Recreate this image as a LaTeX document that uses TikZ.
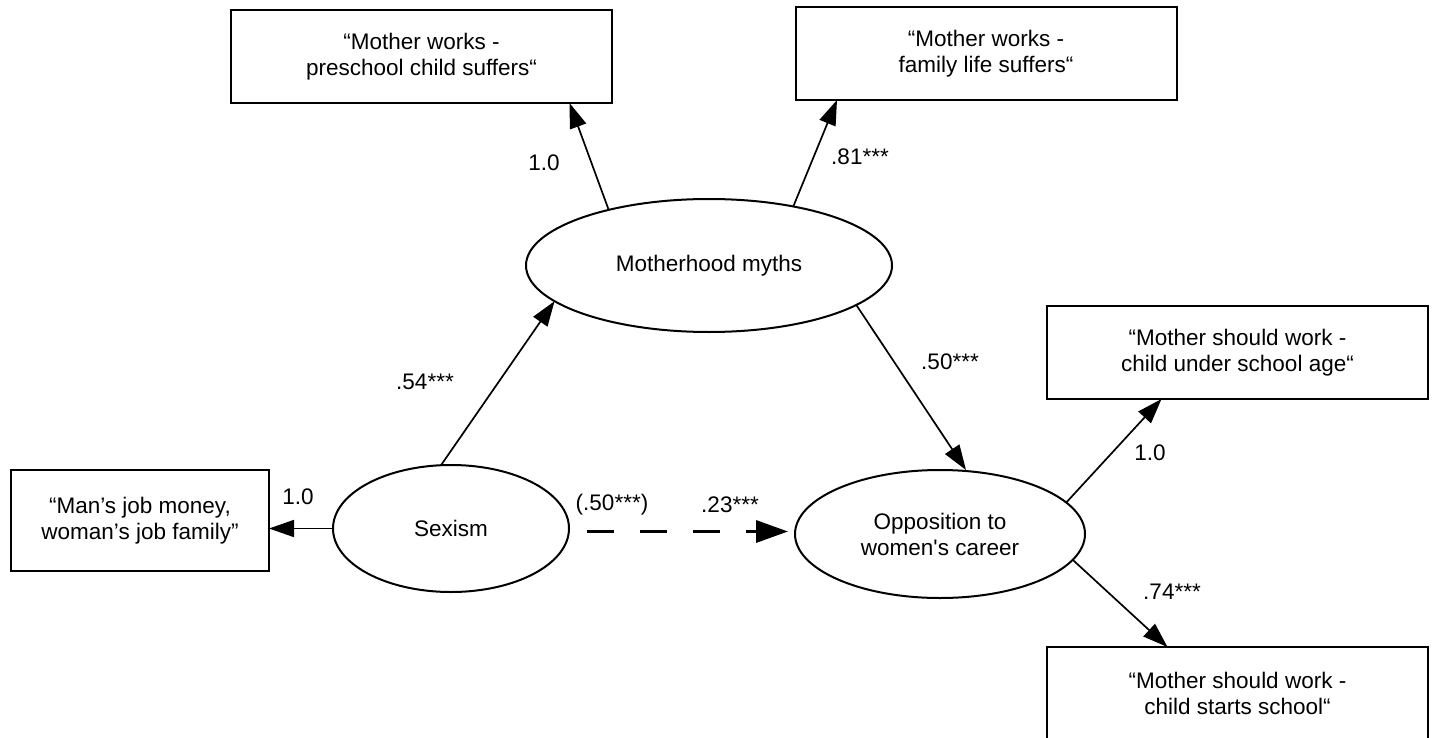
\documentclass[tikz,border=0pt]{standalone}
\usepackage{fontspec}
\setmainfont{Liberation Sans}[Ligatures=TeXOff]
\usetikzlibrary{shapes.geometric,arrows.meta,calc}
\begin{document}
\begin{tikzpicture}[x=0.5pt,y=-0.5pt,
  every node/.style={font=\fontsize{11.25}{13}\selectfont},
  obs/.style={draw,line width=1pt,rectangle,inner sep=0pt,outer sep=0pt,align=center,minimum width=190.5pt,minimum height=46.5pt},
  lat/.style={draw,line width=1pt,ellipse,inner sep=0pt,outer sep=0pt,align=center},
  arr/.style={line width=0.85pt,-{Triangle[length=12.5pt,width=8.5pt]}},
  dpath/.style={line width=1.7pt,dash pattern=on 13.5pt off 13pt,-{Triangle[length=16pt,width=11pt]}},
  lbl/.style={inner sep=0pt}]
\useasboundingbox (0,0) rectangle (1434,738);
% observed indicators
\node[obs] (b1) at (421.5,56.5) {“Mother works -\\preschool child suffers“};
\node[obs] (b2) at (986,53.5) {“Mother works -\\family life suffers“};
\node[obs] (b3) at (1237.5,352.5) {“Mother should work -\\child under school age“};
\node[obs] (b4) at (1237.5,693.5) {“Mother should work -\\child starts school“};
\node[obs,minimum width=129pt,minimum height=50.5pt] (b5) at (140,520.5) {“Man’s job money,\\woman’s job family”};
% latent variables
\node[lat,minimum width=183pt,minimum height=66.5pt] (mm) at (709,265.5) {Motherhood myths};
\node[lat,minimum width=118pt,minimum height=63.5pt] (sx) at (451,528.5) {Sexism};
\node[lat,minimum width=145pt,minimum height=64pt] (op) at (940,534) {Opposition to\\women's career};
% paths
\draw[arr] (mm.151) -- ($(b1.south)+(148,0)$);
\draw[arr] (mm.35.6) -- ($(b2.south)+(-149,0)$);
\draw[arr] (sx.99) -- (mm.193);
\draw[arr] (mm.345.6) -- ($(op.north)+(26,0)$);
\draw[arr] (sx.west) -- (sx.west -| b5.east);
\draw[dpath] ($(sx.east)+(18,3)$) -- ($(op.west)+(-7,-2.5)$);
\draw[arr] (op.14) -- ($(b3.south)+(-76,0)$);
\draw[arr] (op.349) -- ($(b4.north)+(-70,0)$);
% labels
\node[lbl] (l1) at (544,163) {1.0};
\node[lbl] (l2) at (860,157) {.81***};
\node[lbl] (l3) at (425,382) {.54***};
\node[lbl] (l4) at (950,362) {.50***};
\node[lbl] (l5) at (1150,453) {1.0};
\node[lbl] (l6) at (1172,592) {.74***};
\node[lbl] (l7) at (298,497) {1.0};
\node[lbl] (l8) at (612,505) {(.50***)};
\node[lbl] (l9) at (730,505) {.23***};
\end{tikzpicture}
\end{document}
